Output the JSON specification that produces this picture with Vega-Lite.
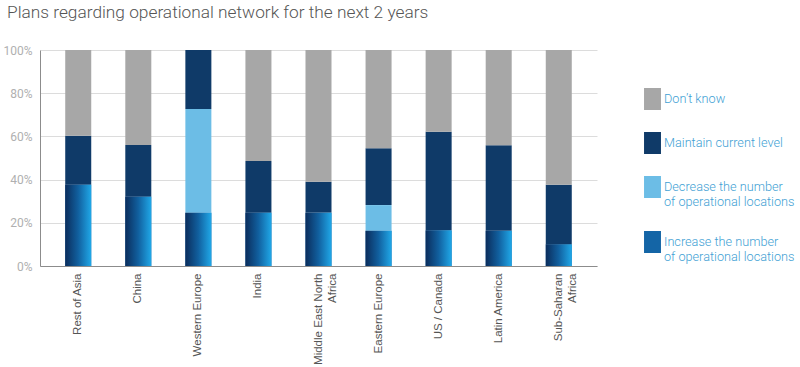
{
  "$schema": "https://vega.github.io/schema/vega-lite/v6.json",
  "width": 557,
  "height": 216,
  "autosize": "none",
  "padding": {"left": 40, "top": 50, "right": 203, "bottom": 101},
  "background": "white",
  "title": {
    "text": "Plans regarding operational network for the next 2 years",
    "anchor": "start",
    "frame": "group",
    "dx": -33,
    "offset": 23,
    "font": "Roboto",
    "fontSize": 17.3,
    "fontWeight": 300,
    "color": "#555555"
  },
  "data": {
    "values": [
      {"region": "Rest of Asia", "series": "Increase the number of operational locations", "value": 37.6},
      {"region": "Rest of Asia", "series": "Maintain current level", "value": 22.7},
      {"region": "Rest of Asia", "series": "Don’t know", "value": 39.7},
      {"region": "China", "series": "Increase the number of operational locations", "value": 32.1},
      {"region": "China", "series": "Maintain current level", "value": 23.9},
      {"region": "China", "series": "Don’t know", "value": 44.0},
      {"region": "Western Europe", "series": "Increase the number of operational locations", "value": 24.7},
      {"region": "Western Europe", "series": "Decrease the number of operational locations", "value": 48.0},
      {"region": "Western Europe", "series": "Maintain current level", "value": 27.3},
      {"region": "India", "series": "Increase the number of operational locations", "value": 24.7},
      {"region": "India", "series": "Maintain current level", "value": 23.9},
      {"region": "India", "series": "Don’t know", "value": 51.4},
      {"region": "Middle East North Africa", "series": "Increase the number of operational locations", "value": 24.7},
      {"region": "Middle East North Africa", "series": "Maintain current level", "value": 14.3},
      {"region": "Middle East North Africa", "series": "Don’t know", "value": 61.0},
      {"region": "Eastern Europe", "series": "Increase the number of operational locations", "value": 16.3},
      {"region": "Eastern Europe", "series": "Decrease the number of operational locations", "value": 11.9},
      {"region": "Eastern Europe", "series": "Maintain current level", "value": 26.3},
      {"region": "Eastern Europe", "series": "Don’t know", "value": 45.5},
      {"region": "US / Canada", "series": "Increase the number of operational locations", "value": 16.5},
      {"region": "US / Canada", "series": "Maintain current level", "value": 45.7},
      {"region": "US / Canada", "series": "Don’t know", "value": 37.8},
      {"region": "Latin America", "series": "Increase the number of operational locations", "value": 16.3},
      {"region": "Latin America", "series": "Maintain current level", "value": 39.6},
      {"region": "Latin America", "series": "Don’t know", "value": 44.1},
      {"region": "Sub-Saharan Africa", "series": "Increase the number of operational locations", "value": 10.0},
      {"region": "Sub-Saharan Africa", "series": "Maintain current level", "value": 27.6},
      {"region": "Sub-Saharan Africa", "series": "Don’t know", "value": 62.4}
    ]
  },
  "transform": [
    {"calculate": "indexof(['Increase the number of operational locations','Decrease the number of operational locations','Maintain current level','Don’t know'], datum.series)", "as": "stackOrder"}
  ],
  "encoding": {
    "x": {
      "field": "region",
      "type": "nominal",
      "sort": ["Rest of Asia", "China", "Western Europe", "India", "Middle East North Africa", "Eastern Europe", "US / Canada", "Latin America", "Sub-Saharan Africa"],
      "scale": {"paddingInner": 0.567, "paddingOuter": 0.42},
      "axis": {
        "title": null,
        "ticks": false,
        "domainColor": "#8c8c8c",
        "labelAngle": -90,
        "labelColor": "#555555",
        "labelFont": "Liberation Sans",
        "labelFontSize": 11.5,
        "labelPadding": 7,
        "labelLineHeight": 14,
        "labelExpr": "datum.label == 'Middle East North Africa' ? ['Middle East North', 'Africa'] : datum.label == 'Sub-Saharan Africa' ? ['Sub-Saharan', 'Africa'] : datum.label"
      }
    }
  },
  "layer": [
    {
      "mark": {"type": "bar"},
      "encoding": {
        "y": {
          "field": "value",
          "type": "quantitative",
          "stack": "zero",
          "scale": {"domain": [0, 100], "nice": false},
          "axis": {
            "title": null,
            "ticks": false,
            "values": [0, 20, 40, 60, 80, 100],
            "labelExpr": "datum.value + '%'",
            "labelColor": "#b0b0b0",
            "labelFont": "Roboto",
            "labelFontSize": 12,
            "labelPadding": 8,
            "domainColor": "#8c8c8c",
            "grid": true,
            "gridColor": "#dcdcdc"
          }
        },
        "color": {
          "field": "series",
          "type": "nominal",
          "scale": {
            "domain": ["Don’t know", "Maintain current level", "Decrease the number of operational locations", "Increase the number of operational locations"],
            "range": ["#a7a7a7", "#0f3a68", "#6cbde6", "#1465a6"]
          },
          "legend": {
            "orient": "none",
            "legendX": 601.5,
            "legendY": 38,
            "title": null,
            "symbolType": "M-0.77,-1L0.77,-1L0.77,1L-0.77,1Z",
            "symbolSize": 484,
            "symbolStrokeWidth": 0,
            "symbolOpacity": 1,
            "labelFont": "Roboto",
            "labelFontSize": 12.7,
            "labelFontWeight": 300,
            "labelColor": "#3f9fd4",
            "labelOffset": 0.5,
            "labelLimit": 300,
            "labelLineHeight": 15,
            "rowPadding": 22,
            "labelExpr": "datum.label == 'Decrease the number of operational locations' ? ['Decrease the number', 'of operational locations'] : datum.label == 'Increase the number of operational locations' ? ['Increase the number', 'of operational locations'] : datum.label"
          }
        },
        "order": {"field": "stackOrder", "type": "quantitative"}
      }
    },
    {
      "transform": [{"filter": "datum.series === 'Increase the number of operational locations'"}],
      "mark": {
        "type": "bar",
        "color": {"gradient": "linear", "x1": 0, "x2": 1, "y1": 0, "y2": 0, "stops": [{"offset": 0, "color": "#0b2d5c"}, {"offset": 0.5, "color": "#11609f"}, {"offset": 1, "color": "#20a8e8"}]}
      },
      "encoding": {
        "y": {"field": "value", "type": "quantitative"}
      }
    }
  ],
  "config": {"view": {"stroke": null}}
}
